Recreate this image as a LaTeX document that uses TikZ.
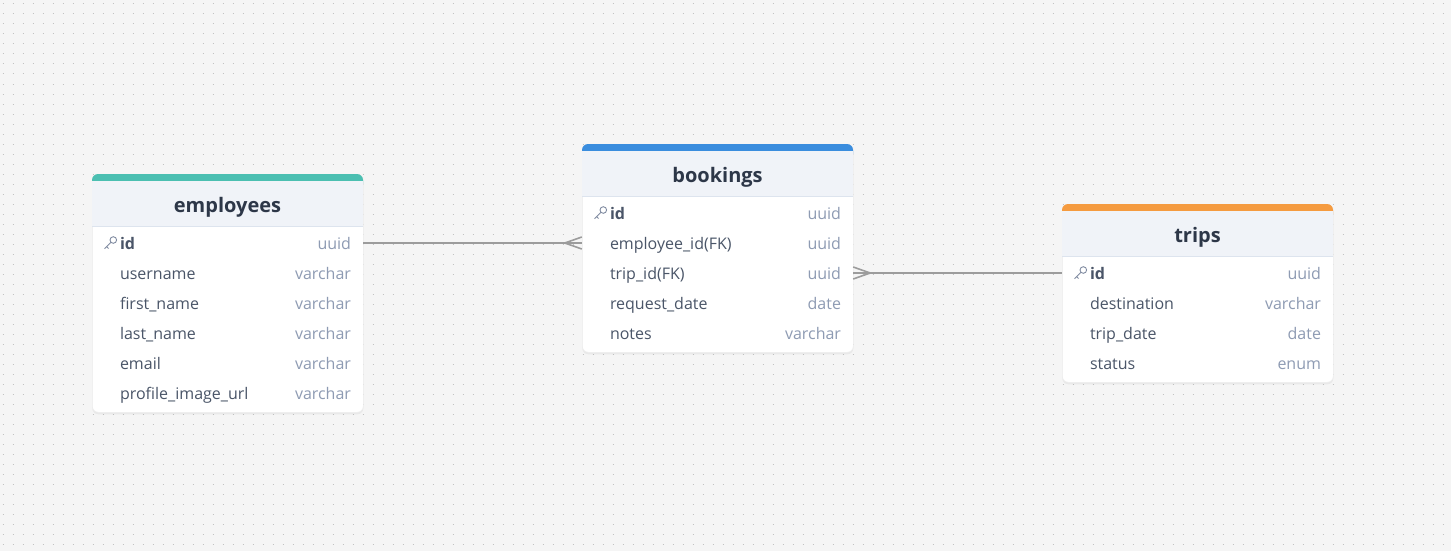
\documentclass[tikz,border=0pt]{standalone}
\usepackage{fontspec}
\setmainfont{Open Sans}
\usetikzlibrary{positioning,shadows}

\definecolor{canvas}{HTML}{F5F5F5}
\definecolor{dotgray}{HTML}{C2C2C2}
\definecolor{headbg}{HTML}{F0F3F8}
\definecolor{headline}{HTML}{DDE4EE}
\definecolor{titlecol}{HTML}{2D3748}
\definecolor{namecol}{HTML}{4A5568}
\definecolor{typecol}{HTML}{8E9BB3}
\definecolor{linkgray}{HTML}{9C9C9C}
\definecolor{empcol}{HTML}{4BBFB1}
\definecolor{bookcol}{HTML}{3A8DDE}
\definecolor{tripcol}{HTML}{F59B3F}

\tikzset{
  tablebody/.style={rectangle, rounded corners=6pt, fill=white, draw=black!7, line width=0.6pt,
    drop shadow={shadow xshift=0pt, shadow yshift=-2pt, opacity=0.10}},
  rowbox/.style={rectangle, minimum width=271pt, minimum height=30pt, inner sep=0pt},
  fieldname/.style={inner sep=0pt, text=namecol, font=\fontsize{16}{19}\selectfont},
  fieldtype/.style={inner sep=0pt, text=typecol, font=\fontsize{16}{19}\selectfont},
  tabletitle/.style={inner sep=0pt, text=titlecol, font=\fontsize{20}{24}\selectfont\bfseries},
  keyicon/.style={draw=typecol!90!black, line width=0.9pt, line cap=round},
  link/.style={draw=linkgray, line width=1.6pt},
  dotrow/.style={draw=dotgray, line width=1pt, dash pattern=on 1pt off 9pt}
}

\begin{document}
\begin{tikzpicture}[x=1pt, y=-1pt]
    % Canvas and dot grid
    \fill[canvas] (0,0) rectangle (1451,551);
    \useasboundingbox (0,0) rectangle (1451,551);
    \foreach \y in {4,14,...,551}
        \draw[dotrow] (2.5,\y) -- (1451,\y);

    % Table employees
    \node[tablebody, minimum width=271pt, minimum height=238pt, anchor=north west] (emp) at (92,174) {};
    \fill[empcol, rounded corners=6pt] (92,174) rectangle (363,190);
    \fill[headbg] (92,181) rectangle (363,226);
    \draw[headline, line width=0.8pt] (92,226) -- (363,226);
    \node[tabletitle, anchor=base] (emp-title) at (227.5,212) {employees};
    \foreach \fname/\ftype [count=\i] in {id/uuid, username/varchar, first\_name/varchar,
        last\_name/varchar, email/varchar, profile\_image\_url/varchar} {
        \node[rowbox] (emp-\i) at (227.5,213+30*\i) {};
        \node[fieldname, right=28pt of emp-\i.west, anchor=base west, yshift=-6pt] (emp-\i-name)
            {\ifnum\i=1\bfseries\fi\fname};
        \node[fieldtype, left=12pt of emp-\i.east, anchor=base east, yshift=-6pt] (emp-\i-type) {\ftype};
    }
    \draw[keyicon, shift={(emp-1.west)}] (21.5,-3) circle (3.3) (19,-0.6) -- (13,5.5) (14.8,3.7) -- (16.6,5.5);

    % Table bookings
    \node[tablebody, minimum width=271pt, minimum height=208pt, anchor=north west] (book) at (582,144) {};
    \fill[bookcol, rounded corners=6pt] (582,144) rectangle (853,160);
    \fill[headbg] (582,151) rectangle (853,196);
    \draw[headline, line width=0.8pt] (582,196) -- (853,196);
    \node[tabletitle, anchor=base] (book-title) at (717.5,182) {bookings};
    \foreach \fname/\ftype [count=\i] in {id/uuid, employee\_id(FK)/uuid, trip\_id(FK)/uuid,
        request\_date/date, notes/varchar} {
        \node[rowbox] (book-\i) at (717.5,183+30*\i) {};
        \node[fieldname, right=28pt of book-\i.west, anchor=base west, yshift=-6pt] (book-\i-name)
            {\ifnum\i=1\bfseries\fi\fname};
        \node[fieldtype, left=12pt of book-\i.east, anchor=base east, yshift=-6pt] (book-\i-type) {\ftype};
    }
    \draw[keyicon, shift={(book-1.west)}] (21.5,-3) circle (3.3) (19,-0.6) -- (13,5.5) (14.8,3.7) -- (16.6,5.5);

    % Table trips
    \node[tablebody, minimum width=271pt, minimum height=178pt, anchor=north west] (trip) at (1062,204) {};
    \fill[tripcol, rounded corners=6pt] (1062,204) rectangle (1333,220);
    \fill[headbg] (1062,211) rectangle (1333,256);
    \draw[headline, line width=0.8pt] (1062,256) -- (1333,256);
    \node[tabletitle, anchor=base] (trip-title) at (1197.5,242) {trips};
    \foreach \fname/\ftype [count=\i] in {id/uuid, destination/varchar, trip\_date/date, status/enum} {
        \node[rowbox] (trip-\i) at (1197.5,243+30*\i) {};
        \node[fieldname, right=28pt of trip-\i.west, anchor=base west, yshift=-6pt] (trip-\i-name)
            {\ifnum\i=1\bfseries\fi\fname};
        \node[fieldtype, left=12pt of trip-\i.east, anchor=base east, yshift=-6pt] (trip-\i-type) {\ftype};
    }
    \draw[keyicon, shift={(trip-1.west)}] (21.5,-3) circle (3.3) (19,-0.6) -- (13,5.5) (14.8,3.7) -- (16.6,5.5);

    % Relations (crow's foot on the many side)
    \draw[link] (emp-1.east) -- (book-2.west);
    \draw[link] (book-2.west) ++(-17,0) -- ++(17,-6) (book-2.west) ++(-17,0) -- ++(17,6);
    \draw[link] (trip-1.west) -- (book-3.east);
    \draw[link] (book-3.east) ++(17,0) -- ++(-17,-6) (book-3.east) ++(17,0) -- ++(-17,6);
\end{tikzpicture}
\end{document}
